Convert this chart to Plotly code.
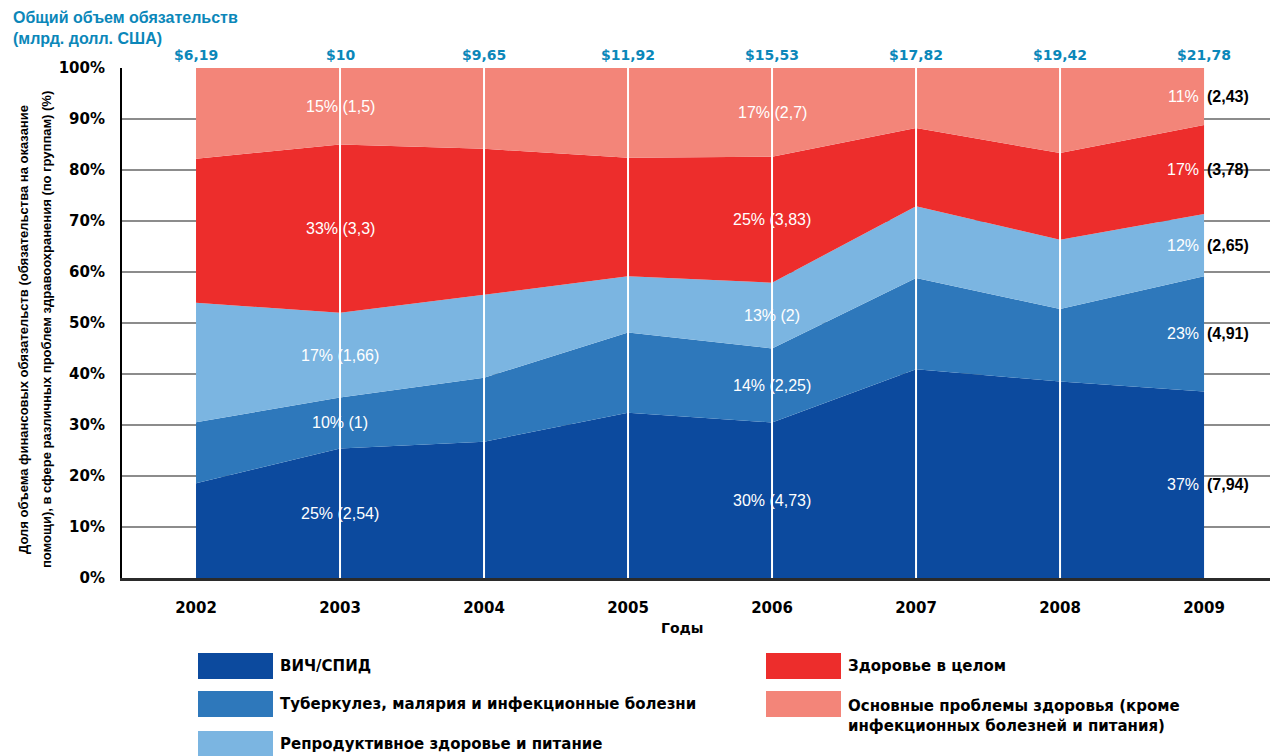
import plotly.graph_objects as go

# Commitments by health area, billions of US dollars
years = [2002, 2003, 2004, 2005, 2006, 2007, 2008, 2009]
hiv_aids = [1.15, 2.54, 2.58, 3.86, 4.73, 7.29, 7.48, 7.94]
tb_malaria = [0.74, 1.00, 1.21, 1.88, 2.25, 3.19, 2.76, 4.91]
reproductive = [1.45, 1.66, 1.57, 1.31, 2.00, 2.51, 2.64, 2.65]
general_health = [1.75, 3.30, 2.76, 2.77, 3.83, 2.73, 3.30, 3.78]
other_health = [1.10, 1.50, 1.53, 2.10, 2.70, 2.10, 3.24, 2.43]

# Total commitments shown above each year
totals = ["$6,19", "$10", "$9,65", "$11,92", "$15,53", "$17,82", "$19,42", "$21,78"]

# Rounded shares printed for the annotated years
pct_2003 = [25, 10, 17, 33, 15]
pct_2006 = [30, 14, 13, 25, 17]
pct_2009 = [37, 23, 12, 17, 11]

series_names = [
    "ВИЧ/СПИД",
    "Туберкулез, малярия и инфекционные болезни",
    "Репродуктивное здоровье и питание",
    "Здоровье в целом",
    "Основные проблемы здоровья (кроме<br>инфекционных болезней и питания)",
]
series_values = [hiv_aids, tb_malaria, reproductive, general_health, other_health]
colors = ["#0c4a9e", "#2e78bb", "#7bb5e1", "#ed2d2c", "#f38579"]

TEAL = "#0b87b9"
FONT = "Liberation Sans, Arial, sans-serif"
WIDE = "DejaVu Sans, Verdana, sans-serif"

W, H = 1270, 756
L, R, T, B = 122, 0, 68, 178
plot_w = W - L - R
plot_h = H - T - B


def px(x):
    return (x - L) / plot_w


def py(y):
    return (H - B - y) / plot_h


fig = go.Figure()
for name, vals, col in zip(series_names, series_values, colors):
    fig.add_trace(go.Scatter(
        x=years, y=vals, name=name, mode="lines",
        stackgroup="one", groupnorm="percent",
        line=dict(width=0, color=col), fillcolor=col,
        hoverinfo="skip", showlegend=False,
    ))

annotations = []
shapes = []

# white separators at inner years
for yr in years[1:-1]:
    shapes.append(dict(type="line", xref="x", yref="y", x0=yr, x1=yr, y0=0, y1=100,
                       line=dict(color="white", width=2), layer="above"))


def fmt_val(v):
    return f"{v:g}".replace(".", ",")


def band_mids(idx):
    col = [s[idx] for s in series_values]
    tot = sum(col)
    mids, acc = [], 0.0
    for v in col:
        share = v / tot * 100
        mids.append(acc + share / 2)
        acc += share
    return mids


# centred labels for 2003 and 2006
for yr, pcts in [(2003, pct_2003), (2006, pct_2006)]:
    i = years.index(yr)
    for vals, p, m in zip(series_values, pcts, band_mids(i)):
        annotations.append(dict(
            x=yr, y=m, xref="x", yref="y", showarrow=False,
            text=f"{p}% ({fmt_val(vals[i])})",
            font=dict(family=FONT, size=16, color="white"),
            xanchor="center", yanchor="middle",
        ))

# split labels at the last year: share inside, amount outside
i = years.index(2009)
for vals, p, m in zip(series_values, pct_2009, band_mids(i)):
    annotations.append(dict(
        x=2009, y=m, xref="x", yref="y", showarrow=False, xshift=-3,
        text=f"{p}%", font=dict(family=FONT, size=16, color="white"),
        xanchor="right", yanchor="middle",
    ))
    annotations.append(dict(
        x=2009, y=m, xref="x", yref="y", showarrow=False, xshift=1,
        text=f"({fmt_val(vals[i])})",
        font=dict(family=FONT, size=16, color="black", weight="bold"),
        xanchor="left", yanchor="middle",
    ))

# totals above columns
for yr, t in zip(years, totals):
    annotations.append(dict(
        x=yr, y=py(55), xref="x", yref="paper", showarrow=False, text=t,
        font=dict(family=WIDE, size=14, color=TEAL, weight="bold"),
        xanchor="center", yanchor="middle",
    ))

# top-left caption
annotations.append(dict(
    x=px(11), y=py(7), xref="paper", yref="paper", showarrow=False,
    text="Общий объем обязательств<br>(млрд. долл. США)", align="left",
    font=dict(family=FONT, size=16, color=TEAL, weight="bold"),
    xanchor="left", yanchor="top",
))

# vertical axis caption, two lines
y_caption = [
    "Доля объема финансовых обязательств (обязательства на оказание",
    "помощи), в сфере различных проблем здравоохранения (по группам) (%)",
]
for cx, line in zip([23, 46], y_caption):
    annotations.append(dict(
        x=px(cx), y=py(330), xref="paper", yref="paper", showarrow=False,
        text=line, textangle=-90,
        font=dict(family=FONT, size=13, color="black", weight="bold"),
        xanchor="center", yanchor="middle",
    ))

# horizontal axis caption
annotations.append(dict(
    x=px(682), y=py(628), xref="paper", yref="paper", showarrow=False,
    text="Годы", font=dict(family=WIDE, size=14, color="black", weight="bold"),
    xanchor="center", yanchor="middle",
))

# legend: two columns of colour boxes with labels
legend_slots = [
    (198, 653), (198, 691), (198, 731),
    (766, 653), (766, 691),
]
for (lx, ly), name, col in zip(legend_slots, series_names, colors):
    shapes.append(dict(type="rect", xref="paper", yref="paper",
                       x0=px(lx), x1=px(lx + 75), y0=py(ly + 26), y1=py(ly),
                       fillcolor=col, line=dict(width=0), layer="above"))
    two_line = "<br>" in name
    annotations.append(dict(
        x=px(lx + 80), y=py(ly + 4) if two_line else py(ly + 13),
        xref="paper", yref="paper", showarrow=False, text=name,
        align="left", xanchor="left",
        yanchor="top" if two_line else "middle",
        font=dict(family=WIDE, size=15, color="black", weight="bold"),
    ))

fig.update_layout(
    width=W, height=H,
    margin=dict(l=L, r=R, t=T, b=B),
    paper_bgcolor="white", plot_bgcolor="white",
    annotations=annotations, shapes=shapes,
    showlegend=False,
    xaxis=dict(
        range=[2001.486, 2009.458], tickvals=years,
        ticktext=[str(y) for y in years],
        showgrid=False, zeroline=False,
        showline=True, linecolor="#2b2b2b", linewidth=3,
        ticks="", ticklabelstandoff=14,
        tickfont=dict(family=WIDE, size=15, color="black", weight="bold"),
    ),
    yaxis=dict(
        range=[0, 100], dtick=10, ticksuffix="%",
        showgrid=True, gridcolor="#8c8c8c", gridwidth=2,
        zeroline=False,
        showline=True, linecolor="black", linewidth=2,
        ticks="", ticklabelstandoff=12,
        tickfont=dict(family=WIDE, size=15, color="black", weight="bold"),
    ),
)

fig.write_html("out.html", config={"displayModeBar": False})
